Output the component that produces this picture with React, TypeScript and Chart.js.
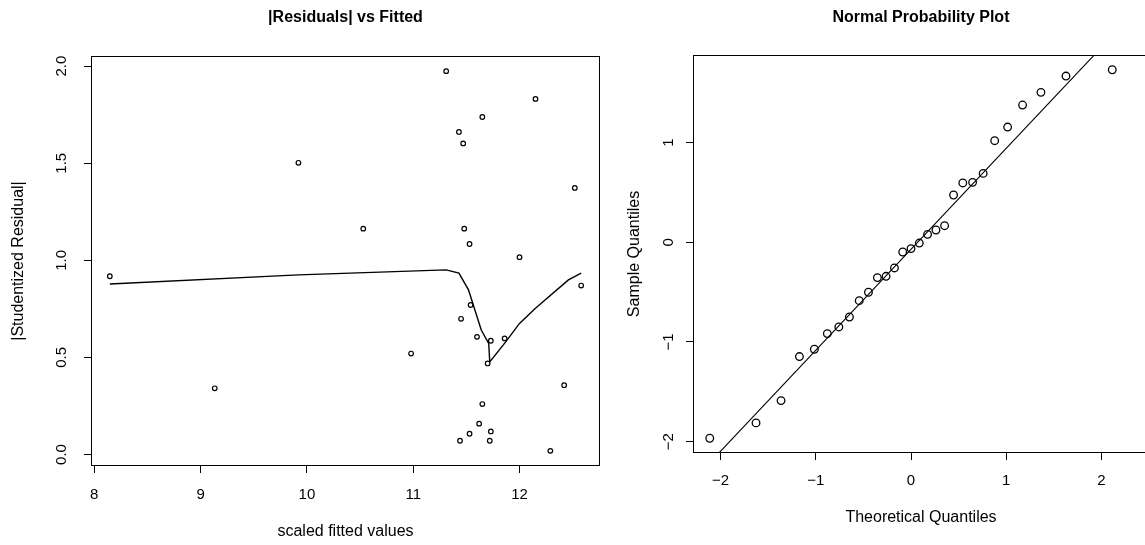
import React, { useEffect, useRef } from "react";
import { Chart, registerables } from "chart.js";

Chart.register(...registerables);

// ---------- Data: |Residuals| vs Fitted ----------
const fittedValues = [
  8.146, 9.133, 9.92, 10.53, 10.98, 11.31, 11.43, 11.47, 11.65, 12.15,
  12.52, 11.48, 11.53, 12.0, 12.58, 11.54, 11.45, 11.6, 11.73, 11.86,
  11.7, 12.42, 11.65, 11.62, 11.53, 11.73, 11.44, 11.72, 12.29,
];
const absStudentizedResiduals = [
  0.918, 0.341, 1.502, 1.163, 0.52, 1.974, 1.661, 1.602, 1.738, 1.831,
  1.373, 1.163, 1.084, 1.016, 0.87, 0.77, 0.699, 0.606, 0.586, 0.598,
  0.469, 0.357, 0.26, 0.159, 0.107, 0.119, 0.071, 0.071, 0.019,
];
const smoothX = [8.146, 9.92, 11.31, 11.43, 11.52, 11.56, 11.64, 11.71, 11.72, 11.87, 12.0, 12.15, 12.46, 12.58];
const smoothY = [0.878, 0.925, 0.951, 0.934, 0.848, 0.779, 0.641, 0.572, 0.477, 0.58, 0.675, 0.753, 0.899, 0.934];
const leftXTicks = [8, 9, 10, 11, 12];
const leftYTicks = [0, 0.5, 1, 1.5, 2];

// ---------- Data: Normal Probability Plot ----------
const theoreticalQuantiles = [
  -2.114, -1.628, -1.365, -1.172, -1.015, -0.879, -0.758, -0.647, -0.544, -0.447,
  -0.353, -0.262, -0.174, -0.087, 0, 0.087, 0.174, 0.262, 0.353, 0.447,
  0.544, 0.647, 0.758, 0.879, 1.015, 1.172, 1.365, 1.628, 2.114,
];
const sampleQuantiles = [
  -1.966, -1.812, -1.588, -1.146, -1.073, -0.916, -0.849, -0.749, -0.585, -0.501,
  -0.354, -0.341, -0.257, -0.097, -0.063, -0.007, 0.08, 0.124, 0.167, 0.475,
  0.596, 0.602, 0.692, 1.02, 1.157, 1.378, 1.505, 1.669, 1.732,
];
const qqLineX = [-2.4, 2.6];
const qqLineY = [-2.501, 2.564];
const rightXTicks = [-2, -1, 0, 1, 2];
const rightYTicks = [-2, -1, 0, 1];

const FONT = "'Liberation Sans', Arial, Helvetica, sans-serif";

const framePlugin = {
  id: "frame",
  afterDatasetsDraw(chart: any) {
    const { ctx, chartArea: a } = chart;
    ctx.save();
    ctx.strokeStyle = "#000";
    ctx.lineWidth = 1;
    const l = Math.round(a.left) + 0.5;
    const t = Math.round(a.top) + 0.5;
    const r = Math.round(a.right) - 0.5;
    const b = Math.round(a.bottom) - 0.5;
    ctx.strokeRect(l, t, r - l, b - t);
    ctx.restore();
  },
};

const minus = (v: number) => String(v).replace("-", "\u2212");

function makeScale(opts: any) {
  const { min, max, ticks, fmt, fitSize, axis, tickPad, title, titlePad } = opts;
  return {
    type: "linear",
    position: axis === "x" ? "bottom" : "left",
    min,
    max,
    afterBuildTicks: (s: any) => {
      s.ticks = ticks.map((v: number) => ({ value: v }));
    },
    afterFit: (s: any) => {
      if (axis === "x") s.height = fitSize;
      else s.width = fitSize;
    },
    ticks: {
      color: "#000",
      font: { family: FONT, size: 15 },
      padding: tickPad,
      callback: (v: number) => fmt(v),
      ...(axis === "y" ? { minRotation: 90, maxRotation: 90, crossAlign: "center" } : { maxRotation: 0 }),
    },
    grid: {
      display: true,
      drawOnChartArea: false,
      drawTicks: true,
      tickLength: 7,
      color: "#000",
      tickColor: "#000",
      lineWidth: 1,
    },
    border: { display: false },
    title: {
      display: true,
      text: title,
      color: "#000",
      font: { family: FONT, size: 16 },
      padding: titlePad,
    },
  };
}

function ChartCanvas({ config, width, height, style }: any) {
  const ref = useRef<HTMLCanvasElement | null>(null);
  useEffect(() => {
    if (!ref.current) return;
    const chart = new Chart(ref.current, config);
    return () => chart.destroy();
  }, []);
  return <canvas ref={ref} width={width} height={height} style={{ position: "absolute", width, height, ...style }} />;
}

const commonPlugins = (titleText: string, titleBottom: number) => ({
  legend: { display: false },
  tooltip: { enabled: false },
  title: {
    display: true,
    text: titleText,
    fullSize: false,
    color: "#000",
    font: { family: FONT, size: 16, weight: "bold" },
    padding: { top: 7.5, bottom: titleBottom },
  },
});

export default function App() {
  const leftConfig: any = {
    type: "scatter",
    data: {
      datasets: [
        {
          type: "line",
          data: smoothX.map((x, i) => ({ x, y: smoothY[i] })),
          borderColor: "#000",
          borderWidth: 1.4,
          pointRadius: 0,
          tension: 0,
          fill: false,
        },
        {
          data: fittedValues.map((x, i) => ({ x, y: absStudentizedResiduals[i] })),
          borderColor: "#000",
          backgroundColor: "rgba(0,0,0,0)",
          borderWidth: 1.2,
          pointRadius: 2.3,
        },
      ],
    },
    options: {
      responsive: false,
      animation: false,
      devicePixelRatio: 1,
      layout: { padding: { left: 0, right: 10, top: 0, bottom: 0 } },
      plugins: commonPlugins("|Residuals| vs Fitted", 29.3),
      scales: {
        x: makeScale({
          axis: "x", min: 7.969, max: 12.757, ticks: leftXTicks, fmt: (v: number) => String(v),
          fitSize: 79, tickPad: 13, title: "scaled fitted values", titlePad: { top: 0, bottom: 3.4 },
        }),
        y: makeScale({
          axis: "y", min: -0.059, max: 2.052, ticks: leftYTicks, fmt: (v: number) => v.toFixed(1),
          fitSize: 91, tickPad: 12, title: "|Studentized Residual|", titlePad: { top: 9.4, bottom: 0 },
        }),
      },
    },
    plugins: [framePlugin],
  };

  const rightConfig: any = {
    type: "scatter",
    data: {
      datasets: [
        {
          type: "line",
          data: qqLineX.map((x, i) => ({ x, y: qqLineY[i] })),
          borderColor: "#000",
          borderWidth: 1.1,
          pointRadius: 0,
          tension: 0,
          fill: false,
        },
        {
          data: theoreticalQuantiles.map((x, i) => ({ x, y: sampleQuantiles[i] })),
          borderColor: "#000",
          backgroundColor: "rgba(0,0,0,0)",
          borderWidth: 1.3,
          pointRadius: 3.8,
        },
      ],
    },
    options: {
      responsive: false,
      animation: false,
      devicePixelRatio: 1,
      layout: { padding: { left: 0, right: 21, top: 0, bottom: 0 } },
      plugins: commonPlugins("Normal Probability Plot", 28.3),
      scales: {
        x: makeScale({
          axis: "x", min: -2.29, max: 2.5, ticks: rightXTicks, fmt: minus,
          fitSize: 92, tickPad: 12, title: "Theoretical Quantiles", titlePad: { top: 0, bottom: 17.4 },
        }),
        y: makeScale({
          axis: "y", min: -2.114, max: 1.88, ticks: rightYTicks, fmt: minus,
          fitSize: 83, tickPad: 9, title: "Sample Quantiles", titlePad: { top: 15.4, bottom: 0 },
        }),
      },
    },
    plugins: [framePlugin],
  };

  return (
    <div
      style={{
        position: "fixed",
        left: 0,
        top: 0,
        width: 1145,
        height: 545,
        overflow: "hidden",
        background: "#fff",
      }}
    >
      <ChartCanvas config={leftConfig} width={610} height={545} style={{ left: 0, top: 0 }} />
      <ChartCanvas config={rightConfig} width={560} height={545} style={{ left: 610, top: 0 }} />
    </div>
  );
}
